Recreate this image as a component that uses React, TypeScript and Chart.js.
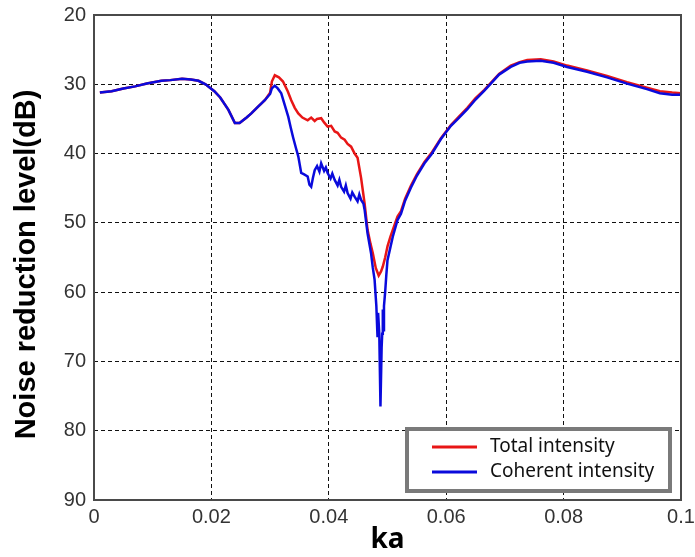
import React, { useEffect, useRef } from "react";
import { Chart, registerables } from "chart.js";

Chart.register(...registerables);

const seriesLabels = ["Total intensity", "Coherent intensity"];
const seriesColors = ["rgb(232,22,22)", "rgb(10,10,220)"];

const kaTotal = [
  0.001, 0.003, 0.005, 0.007, 0.009, 0.0115, 0.013, 0.015, 0.0165, 0.0178, 0.019, 0.0205, 0.0215, 0.0229, 0.024,
  0.0248, 0.026, 0.0268, 0.028, 0.0291, 0.03, 0.0303, 0.0308, 0.0315, 0.0322, 0.033, 0.0336, 0.0342, 0.0348,
  0.0355, 0.0364, 0.037, 0.0376, 0.038, 0.0387, 0.0392, 0.0398, 0.0404, 0.041, 0.0415, 0.0421, 0.0427, 0.0432,
  0.0438, 0.0444, 0.0449, 0.0455, 0.0461, 0.0466, 0.0471, 0.0475, 0.048, 0.0485, 0.0489, 0.0492, 0.0496, 0.05,
  0.0505, 0.0509, 0.0517, 0.0523, 0.053, 0.054, 0.055, 0.0563, 0.0575, 0.0591, 0.0608, 0.062, 0.0636, 0.065,
  0.0665, 0.0676, 0.069, 0.071, 0.0725, 0.0738, 0.0761, 0.0783, 0.0806, 0.084, 0.0874, 0.0908, 0.0942, 0.0964,
  0.0985, 0.1,
];
const nrTotal = [
  31.2, 31.0, 30.6, 30.3, 29.9, 29.5, 29.4, 29.2, 29.3, 29.5, 30.0, 31.0, 31.9, 33.7, 35.6,
  35.6, 34.8, 34.2, 33.2, 32.3, 31.2, 29.6, 28.7, 29.0, 29.6, 31.0, 32.3, 33.4, 34.2,
  34.8, 35.2, 34.8, 35.3, 35.0, 34.9, 35.5, 36.1, 36.0, 36.8, 37.0, 37.7, 38.0, 38.6,
  39.0, 40.0, 40.6, 43.5, 47.2, 51.0, 53.0, 54.4, 56.5, 57.6, 57.0, 56.3, 55.0, 53.4,
  52.0, 51.0, 49.1, 48.3, 46.5, 44.6, 43.0, 41.2, 39.9, 37.8, 35.9, 34.8, 33.4, 32.0,
  30.8, 29.8, 28.5, 27.3, 26.8, 26.5, 26.4, 26.7, 27.3, 28.0, 28.8, 29.7, 30.5, 31.0,
  31.2, 31.3,
];

const kaCoherent = [
  0.001, 0.003, 0.005, 0.007, 0.009, 0.0115, 0.013, 0.015, 0.0165, 0.0178, 0.019, 0.0205, 0.0215, 0.0229, 0.024,
  0.0248, 0.026, 0.0268, 0.028, 0.0291, 0.03, 0.0303, 0.0308, 0.0313, 0.0319, 0.0325, 0.0331, 0.0335, 0.0339,
  0.0344, 0.0348, 0.0353, 0.0358, 0.0364, 0.0367, 0.037, 0.0373, 0.0376, 0.038, 0.0384, 0.0387, 0.0392, 0.0395,
  0.0398, 0.0403, 0.0406, 0.041, 0.0415, 0.0418, 0.0421, 0.0426, 0.0429, 0.0432, 0.0437, 0.044, 0.0444, 0.0449,
  0.0452, 0.0455, 0.0459, 0.0461, 0.0466, 0.0472, 0.0475, 0.0478, 0.0481, 0.0483, 0.0484, 0.0486, 0.0488, 0.049,
  0.0491, 0.0492, 0.0493, 0.0494, 0.0496, 0.0498, 0.05, 0.0505, 0.0509, 0.0517, 0.0523, 0.053, 0.054, 0.055,
  0.0563, 0.0575, 0.0591, 0.0608, 0.062, 0.0636, 0.065, 0.0665, 0.0676, 0.069, 0.071, 0.0725, 0.0738, 0.0761,
  0.0783, 0.0806, 0.084, 0.0874, 0.0908, 0.0942, 0.0964, 0.0985, 0.1,
];
const nrCoherent = [
  31.2, 31.0, 30.6, 30.3, 29.9, 29.5, 29.4, 29.2, 29.3, 29.5, 30.0, 31.0, 31.9, 33.7, 35.6,
  35.6, 34.8, 34.2, 33.2, 32.3, 31.4, 30.6, 30.2, 30.6, 31.3, 33.0, 34.7, 36.2, 37.6,
  39.2, 40.4, 42.8, 43.0, 43.3, 44.5, 44.8, 43.5, 42.4, 41.8, 42.6, 41.4, 42.5, 42.0,
  42.8, 43.6, 42.9, 43.8, 44.6, 43.8, 44.8, 45.5, 44.6, 45.7, 46.5, 45.6, 46.2, 46.9,
  45.9, 46.7, 47.2, 48.1, 51.5, 54.4, 56.5, 58.2, 62.0, 66.5, 63.0, 66.0, 76.5, 68.0,
  66.0, 62.5, 65.5, 62.0, 60.0, 57.5, 55.4, 53.5, 52.0, 49.6, 48.7, 46.8, 44.9, 43.2,
  41.4, 40.1, 37.9, 36.0, 35.0, 33.6, 32.2, 30.9, 29.9, 28.6, 27.5, 26.9, 26.7, 26.6,
  26.9, 27.5, 28.2, 29.0, 29.9, 30.7, 31.3, 31.5, 31.5,
];

const xTicks = [0, 0.02, 0.04, 0.06, 0.08, 0.1];
const yTicks = [20, 30, 40, 50, 60, 70, 80, 90];
const xTitle = "ka";
const yTitle = "Noise reduction level(dB)";

const framePlugin = {
  id: "frame",
  afterDatasetsDraw(chart: any) {
    const { ctx, chartArea } = chart;
    ctx.save();
    ctx.strokeStyle = "#4a4a4a";
    ctx.lineWidth = 2;
    ctx.strokeRect(chartArea.left, chartArea.top, chartArea.right - chartArea.left, chartArea.bottom - chartArea.top);
    ctx.restore();
  },
};

const yTitlePlugin = {
  id: "yTitleText",
  afterDraw(chart: any) {
    const { ctx, chartArea } = chart;
    ctx.save();
    ctx.translate(27, (chartArea.top + chartArea.bottom) / 2 + 7);
    ctx.rotate(-Math.PI / 2);
    ctx.font = "bold 29px 'Liberation Sans', Arial";
    ctx.fillStyle = "#000000";
    ctx.textAlign = "center";
    ctx.textBaseline = "middle";
    ctx.fillText(yTitle, 0, 0);
    ctx.restore();
  },
};

const legendPlugin = {
  id: "boxLegend",
  afterDraw(chart: any) {
    const { ctx, chartArea } = chart;
    const w = 263;
    const h = 62;
    const x = chartArea.right - 11 - w;
    const y = chartArea.bottom - 9 - h;
    ctx.save();
    ctx.fillStyle = "#ffffff";
    ctx.fillRect(x, y, w, h);
    ctx.strokeStyle = "#7a7a7a";
    ctx.lineWidth = 4;
    ctx.strokeRect(x, y, w, h);
    ctx.font = "19px 'Noto Sans'";
    ctx.textBaseline = "middle";
    ctx.textAlign = "left";
    chart.data.datasets.forEach((ds: any, i: number) => {
      const ly = y + 18 + i * 25;
      ctx.strokeStyle = ds.borderColor;
      ctx.lineWidth = 3;
      ctx.beginPath();
      ctx.moveTo(x + 25, ly);
      ctx.lineTo(x + 70, ly);
      ctx.stroke();
      ctx.fillStyle = "#111111";
      ctx.fillText(ds.label, x + 83, ly);
    });
    ctx.restore();
  },
};

export default function App() {
  const canvasRef = useRef<HTMLCanvasElement | null>(null);

  useEffect(() => {
    if (!canvasRef.current) return;
    const toPoints = (xs: number[], ys: number[]) => xs.map((x, i) => ({ x, y: ys[i] }));
    const chart = new Chart(canvasRef.current, {
      type: "line",
      data: {
        datasets: [
          {
            label: seriesLabels[0],
            data: toPoints(kaTotal, nrTotal),
            borderColor: seriesColors[0],
            backgroundColor: seriesColors[0],
            borderWidth: 2.5,
            pointRadius: 0,
            tension: 0,
            order: 2,
          },
          {
            label: seriesLabels[1],
            data: toPoints(kaCoherent, nrCoherent),
            borderColor: seriesColors[1],
            backgroundColor: seriesColors[1],
            borderWidth: 2.5,
            pointRadius: 0,
            tension: 0,
            order: 1,
          },
        ],
      },
      options: {
        animation: false,
        responsive: false,
        layout: { padding: { top: 15, right: 14, left: 0, bottom: 0 } },
        plugins: { legend: { display: false }, tooltip: { enabled: false } },
        scales: {
          x: {
            type: "linear",
            min: 0,
            max: 0.1,
            afterBuildTicks: (s: any) => {
              s.ticks = xTicks.map((v) => ({ value: v }));
            },
            afterFit: (s: any) => {
              s.height = 57;
              s.paddingLeft = 0;
              s.paddingRight = 0;
            },
            ticks: {
              color: "#333333",
              font: { family: "'Liberation Sans', Arial", size: 20 },
              padding: 5,
              maxRotation: 0,
              callback: (v: any) => String(Number(Number(v).toFixed(3))),
            },
            grid: { color: "#111111", lineWidth: 1, drawTicks: false },
            border: { display: false, dash: [4, 3] },
            title: {
              display: true,
              text: xTitle,
              color: "#000000",
              font: { family: "'Noto Sans'", size: 28, weight: "bold" },
              padding: { top: 0, bottom: 0 },
            },
          },
          y: {
            type: "linear",
            reverse: true,
            min: 20,
            max: 90,
            afterBuildTicks: (s: any) => {
              s.ticks = yTicks.map((v) => ({ value: v }));
            },
            afterFit: (s: any) => {
              s.width = 94;
              s.paddingTop = 0;
              s.paddingBottom = 0;
            },
            ticks: {
              color: "#333333",
              font: { family: "'Liberation Sans', Arial", size: 20 },
              padding: 8,
            },
            grid: { color: "#111111", lineWidth: 1, drawTicks: false },
            border: { display: false, dash: [4, 3] },
            title: { display: false, text: yTitle },
          },
        },
      },
      plugins: [framePlugin, legendPlugin, yTitlePlugin],
    });
    return () => chart.destroy();
  }, []);

  return (
    <div style={{ position: "fixed", left: 0, top: 0, width: 695, height: 557, background: "#fff" }}>
      <canvas ref={canvasRef} width={695} height={557} />
    </div>
  );
}
